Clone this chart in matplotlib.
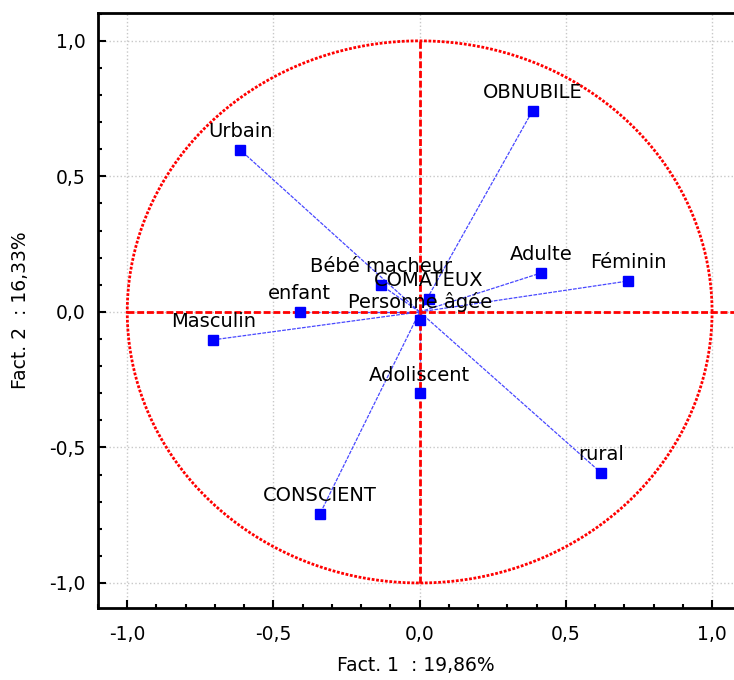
import numpy as np
import matplotlib
matplotlib.use('Agg')
import matplotlib.pyplot as plt
from matplotlib.ticker import MultipleLocator

plt.rcParams['font.family'] = ['DejaVu Sans']

labels = ['OBNUBILE', 'Urbain', 'Adulte', 'Féminin', 'Bébé macheur', 'COMATEUX',
          'enfant', 'Personne âgée', 'Masculin', 'Adoliscent', 'rural', 'CONSCIENT']
fact1 = [0.386, -0.614, 0.416, 0.713, -0.133, 0.031, -0.41, 0.0, -0.706, 0.0, 0.621, -0.341]
fact2 = [0.742, 0.598, 0.144, 0.114, 0.100, 0.048, 0.0, -0.03, -0.103, -0.30, -0.594, -0.745]
tick_values = [-1.0, -0.5, 0.0, 0.5, 1.0]
tick_labels = ['-1,0', '-0,5', '0,0', '0,5', '1,0']

fig = plt.figure(figsize=(7.34, 6.8), dpi=100)
ax = fig.add_axes([0.1335, 0.106, 0.8665, 0.875])

# correlation circle
t = np.linspace(0, 2 * np.pi, 400)
ax.plot(np.cos(t), np.sin(t), color='red', lw=2, linestyle=(0, (1, 0.6)), zorder=3)
ax.plot([-1, 1.1], [0, 0], color='red', lw=2, linestyle=(0, (2.5, 1)), zorder=3)
ax.plot([0, 0], [-1, 1], color='red', lw=2, linestyle=(0, (2.5, 1)), zorder=3)

for x, y, name in zip(fact1, fact2, labels):
    ax.plot([0, x], [0, y], color='#4848ff', lw=0.9, linestyle=(0, (3, 1)), zorder=2)
    ax.annotate(name, (x, y), xytext=(0, 13), textcoords='offset points',
                ha='center', va='center', fontsize=14, zorder=5)
ax.plot(fact1, fact2, 's', color='blue', markersize=7, zorder=4, linestyle='none')

ax.set_xlim(-1.1, 1.075)
ax.set_ylim(-1.092, 1.103)
ax.set_xticks(tick_values)
ax.set_xticklabels(tick_labels)
ax.set_yticks(tick_values)
ax.set_yticklabels(tick_labels)
ax.xaxis.set_minor_locator(MultipleLocator(0.1))
ax.yaxis.set_minor_locator(MultipleLocator(0.1))
ax.tick_params(which='both', direction='in', top=False, right=False, labelsize=13.5, width=1.5)
ax.tick_params(which='major', length=6, pad=9)
ax.tick_params(axis='x', which='major', pad=12)
ax.tick_params(which='minor', length=3)
ax.grid(True, color='#c8c8c8', linestyle=':', lw=1)

ax.spines['right'].set_visible(False)
for s in ['left', 'bottom', 'top']:
    ax.spines[s].set_linewidth(2)

ax.set_xlabel('Fact. 1  : 19,86%', fontsize=13.5, labelpad=9)
ax.set_ylabel('Fact. 2  : 16,33%', fontsize=13.5, labelpad=14)

fig.savefig('out.png', dpi=100)
